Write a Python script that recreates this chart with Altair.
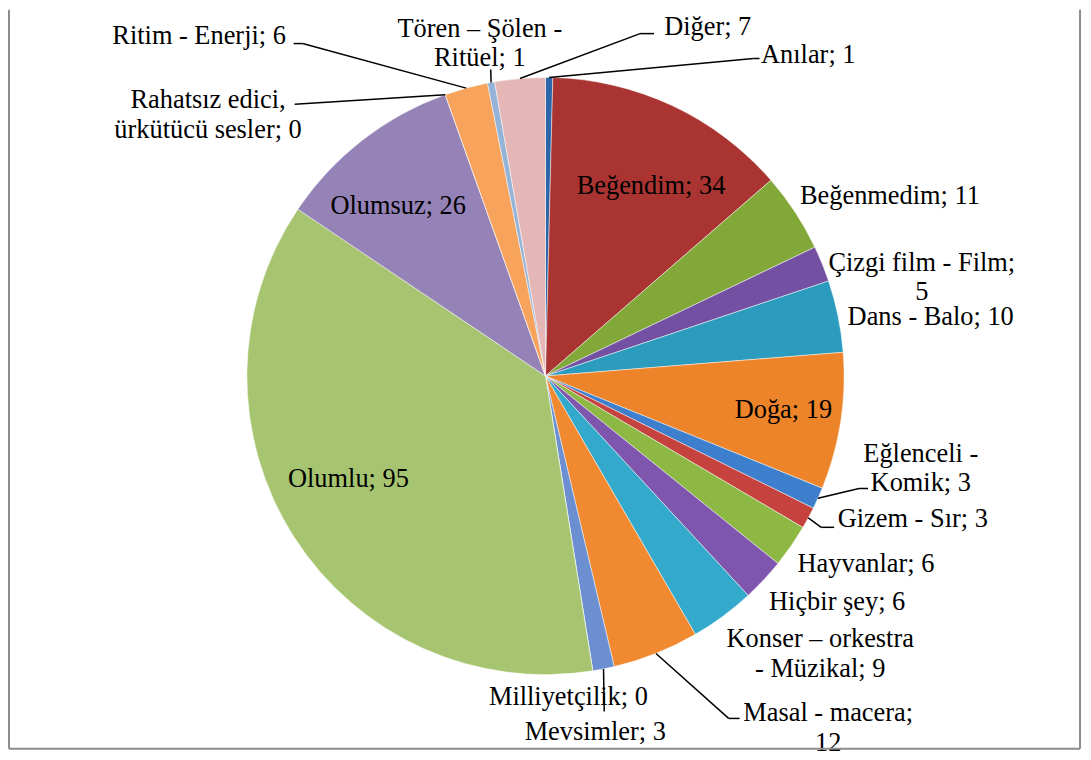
import altair as alt
import pandas as pd

# ---------------- data ----------------
categories = [
    "Anılar", "Beğendim", "Beğenmedim", "Çizgi film - Film", "Dans  - Balo",
    "Doğa", "Eğlenceli - Komik", "Gizem - Sır", "Hayvanlar", "Hiçbir şey",
    "Konser – orkestra - Müzikal", "Masal - macera", "Mevsimler", "Milliyetçilik",
    "Olumlu", "Olumsuz", "Rahatsız edici, ürkütücü sesler", "Ritim - Enerji",
    "Tören – Şölen - Ritüel", "Diğer",
]
values = [1, 34, 11, 5, 10, 19, 3, 3, 6, 6, 9, 12, 3, 0, 95, 26, 0, 6, 1, 7]

# ---------------- styling / layout ----------------
COLORS = [
    "#2A66A8", "#AA3431", "#82A83A", "#7350A2", "#2B9CBE", "#EE8429",
    "#3D7FCC", "#C6423E", "#8DB843", "#7E56AE", "#33A9CB", "#F0892F",
    "#6B8FD0", "#D05A56", "#A7C570", "#9582B7", "#6FC3DA", "#F7A35C",
    "#95B3D7", "#E4B7B6",
]
W, H = 1080, 744
CX, CY, R = 540, 368, 300
FONT = "Liberation Serif"
FS = 26.5

# where a label wraps onto a second line
BREAK_AFTER = {
    "Çizgi film - Film": "Film;",
    "Eğlenceli - Komik": "Eğlenceli -",
    "Konser – orkestra - Müzikal": "orkestra",
    "Masal - macera": "macera;",
    "Rahatsız edici, ürkütücü sesler": "edici,",
    "Tören – Şölen - Ritüel": "Şölen -",
}

# label anchor (centre x, first baseline y) in pixels of the chart
label_x = [804, 646, 886, 918, 927, 779, 917, 909, 862, 833,
           816, 824, 590, 563, 342, 392, 201, 192, 474, 703]
label_y = [54, 185, 195, 262, 317, 410, 454, 520, 565, 603,
           640, 715, 734, 699, 479, 205, 99, 34, 27, 25]

# leader lines: elbow point and end point (None = no leader line)
N = None
elbow_x = [749, N, N, N, N, N, 855, 817, N, N, N, 724, 599, N, N, N, 288, 296, 485, 635]
elbow_y = [49, N, N, N, N, N, 481, 520, N, N, N, 712, 705, N, N, N, 95, 34, 60, 24]
end_x = [755, N, N, N, N, N, 864, 830, N, N, N, 735, 599, N, N, N, 288, 287, 485, 649]
end_y = [49, N, N, N, N, N, 481, 520, N, N, N, 712, 705, N, N, N, 95, 34, 60, 24]


def make_label(cat, val):
    txt = f"{cat}; {val}"
    if cat in BREAK_AFTER:
        key = BREAK_AFTER[cat]
        txt = txt.replace(key + " ", key + "\n", 1)
    return txt


labels = [make_label(c, v) for c, v in zip(categories, values)]

df = pd.DataFrame({
    "idx": list(range(len(categories))),
    "cat": categories,
    "value": values,
    "label": labels,
    "lx": label_x,
    "ly": label_y,
    "bx": elbow_x,
    "by": elbow_y,
    "tx": end_x,
    "ty": end_y,
})

XS = alt.Scale(domain=[0, W], range=[0, W], nice=False, zero=False)
YS = alt.Scale(domain=[0, H], range=[0, H], nice=False, zero=False)

pie = alt.Chart(df).mark_arc(
    outerRadius=R, stroke="#ffffff", strokeWidth=0.8, strokeOpacity=0.6
).encode(
    theta=alt.Theta("value:Q", stack=True),
    order=alt.Order("idx:Q"),
    color=alt.Color("cat:N", scale=alt.Scale(domain=categories, range=COLORS), legend=None),
    x=alt.value(CX),
    y=alt.value(CY),
)

geo = alt.Chart(df).transform_window(
    cum="sum(value)", sort=[alt.SortField("idx")], frame=[None, 0]
).transform_joinaggregate(
    total="sum(value)"
).transform_calculate(
    mid="2*PI*(datum.cum - datum.value/2)/datum.total",
).transform_calculate(
    ex=f"{CX} + {R}*sin(datum.mid)",
    ey=f"{CY} - {R}*cos(datum.mid)",
).transform_filter("isValid(datum.bx)")

lead1 = geo.mark_rule(color="#000000", strokeWidth=1.5).encode(
    x=alt.X("ex:Q", scale=XS, axis=None),
    y=alt.Y("ey:Q", scale=YS, axis=None),
    x2="bx:Q",
    y2="by:Q",
)
lead2 = geo.mark_rule(color="#000000", strokeWidth=1.5).encode(
    x=alt.X("bx:Q", scale=XS, axis=None),
    y=alt.Y("by:Q", scale=YS, axis=None),
    x2="tx:Q",
    y2="ty:Q",
)

text = alt.Chart(df).mark_text(
    font=FONT, fontSize=FS, lineBreak="\n", align="center",
    baseline="alphabetic", color="#000000", lineHeight=30,
).encode(
    x=alt.X("lx:Q", scale=XS, axis=None),
    y=alt.Y("ly:Q", scale=YS, axis=None),
    text="label:N",
)

frame_df = pd.DataFrame({"b": [0]})
border_col = "#8c8c8c"
left_b = alt.Chart(frame_df).mark_rule(color=border_col, strokeWidth=2).encode(
    x=alt.value(1), y=alt.value(0), y2=alt.value(H - 1.5))
right_b = alt.Chart(frame_df).mark_rule(color=border_col, strokeWidth=2).encode(
    x=alt.value(1077), y=alt.value(0), y2=alt.value(H - 1.5))
bottom_b = alt.Chart(frame_df).mark_rule(color=border_col, strokeWidth=2).encode(
    x=alt.value(1), x2=alt.value(1077), y=alt.value(H - 1.5))

chart = alt.layer(pie, lead1, lead2, text, left_b, right_b, bottom_b).properties(
    width=W, height=H, padding=0,
    autosize=alt.AutoSizeParams(type="none"),
).configure_view(stroke=None)

chart.save("out.html", embed_options={"renderer": "svg", "actions": False})
